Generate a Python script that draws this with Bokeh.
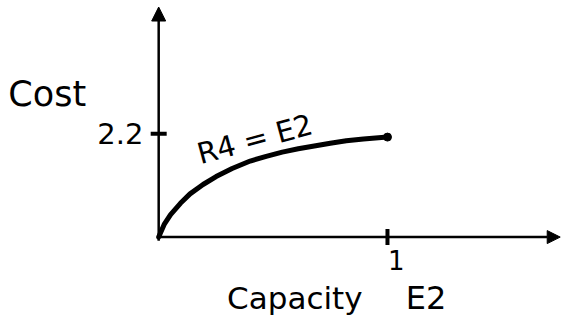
import math
from bokeh.plotting import figure
from bokeh.models import Arrow, NormalHead
from bokeh.core.properties import value
from bokeh.embed import file_html
from bokeh.resources import INLINE

# ---- data ----
capacity = [0, 0.024, 0.052, 0.095, 0.137, 0.194, 0.251, 0.321, 0.40, 0.47,
            0.54, 0.61, 0.68, 0.75, 0.82, 0.895, 1.0]
cost = [0, 0.27, 0.48, 0.72, 0.92, 1.12, 1.29, 1.46, 1.62, 1.72,
        1.81, 1.88, 1.94, 2.0, 2.05, 2.09, 2.13]
x_ticks = [1]
x_tick_labels = ["1"]
y_ticks = [2.2]
y_tick_labels = ["2.2"]
x_title = "Capacity"
x_unit = "E2"
y_title = "Cost"
curve_label = "R4 = E2"

FONT = value("DejaVu Sans")
W, H = 562, 318

p = figure(width=W, height=H, output_backend="svg", toolbar_location=None,
           x_range=(-0.6914, 1.765), y_range=(-1.734, 5.039),
           min_border=0, outline_line_color=None)
p.axis.visible = False
p.grid.visible = False
p.background_fill_color = "white"
p.border_fill_color = "white"

# hand-drawn style axes with arrowheads
p.add_layout(Arrow(end=NormalHead(size=14, fill_color="black", line_color="black"),
                   x_start=0, y_start=-0.08, x_end=0, y_end=4.90,
                   line_width=2.5, line_color="black"))
p.add_layout(Arrow(end=NormalHead(size=13, fill_color="black", line_color="black"),
                   x_start=-0.005, y_start=0, x_end=1.755, y_end=0,
                   line_width=2.5, line_color="black"))

# tick marks
p.scatter(x=[0] * len(y_ticks), y=y_ticks, marker="dash", size=16,
          line_width=4, line_color="black")
p.scatter(x=x_ticks, y=[0] * len(x_ticks), marker="dash", size=16, angle=math.pi / 2,
          line_width=4, line_color="black")

# curve
p.line(capacity, cost, line_width=5, line_color="black", line_cap="round", line_join="round")
p.scatter(x=[capacity[-1]], y=[cost[-1]], size=8, color="black")

# tick labels
p.text(x=[-0.067] * len(y_ticks), y=y_ticks, text=y_tick_labels, text_font=FONT,
       text_font_size="29px", text_align="right", text_baseline="middle", text_color="black")
p.text(x=[t + 0.038 for t in x_ticks], y=[-0.27] * len(x_ticks), text=x_tick_labels,
       text_font=FONT, text_font_size="26px", text_align="center", text_baseline="top",
       text_color="black")

# titles
p.text(x=[-0.657], y=[3.052], text=[y_title], text_font=FONT, text_font_size="35px",
       text_align="left", text_baseline="alphabetic", text_color="black")
p.text(x=[0.299], y=[-1.30], text=[x_title], text_font=FONT, text_font_size="31px",
       text_align="left", text_baseline="alphabetic", text_color="black")
p.text(x=[1.08], y=[-1.30], text=[x_unit], text_font=FONT, text_font_size="32px",
       text_align="left", text_baseline="alphabetic", text_color="black")

# curve annotation
p.text(x=[0.171], y=[1.755], text=[curve_label], text_font=FONT, text_font_size="29px",
       text_align="left", text_baseline="alphabetic", angle=0.264, text_color="black")

open("out.html", "w").write(file_html(p, INLINE))
